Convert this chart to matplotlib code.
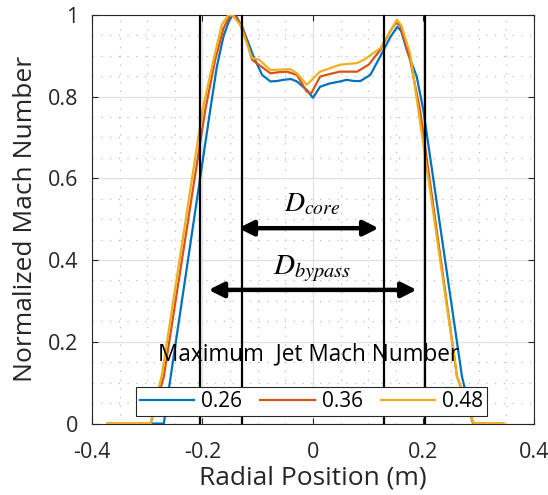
import matplotlib
matplotlib.use("Agg")
import matplotlib.pyplot as plt
from matplotlib.ticker import MultipleLocator

plt.rcParams['font.family'] = ['Open Sans', 'DejaVu Sans']
plt.rcParams['axes.unicode_minus'] = False
plt.rcParams['mathtext.fontset'] = 'stix'

# Data
x_026 = [-0.290, -0.270, -0.258, -0.186, -0.174, -0.162, -0.152, -0.145, -0.138, -0.126,
         -0.1075, -0.092, -0.077, -0.065, -0.053, -0.040, -0.029, -0.011, 0.000, 0.013,
         0.030, 0.049, 0.061, 0.075, 0.086, 0.104, 0.125, 0.140, 0.153, 0.160, 0.170,
         0.188, 0.200, 0.270, 0.290]
y_026 = [0.0, 0.0, 0.111, 0.767, 0.873, 0.947, 0.985, 1.0, 0.995, 0.963,
         0.898, 0.853, 0.837, 0.838, 0.841, 0.843, 0.837, 0.816, 0.797, 0.824,
         0.832, 0.837, 0.841, 0.838, 0.838, 0.853, 0.906, 0.945, 0.971, 0.960, 0.914,
         0.849, 0.767, 0.115, 0.0]

x_036 = [-0.372, -0.294, -0.270, -0.195, -0.177, -0.162, -0.150, -0.140, -0.128, -0.110,
         -0.098, -0.077, -0.060, -0.047, -0.029, -0.011, -0.003, 0.013, 0.030, 0.049,
         0.065, 0.080, 0.101, 0.122, 0.140, 0.150, 0.158, 0.176, 0.194, 0.261, 0.291, 0.345]
y_036 = [0.0, 0.0, 0.115, 0.767, 0.890, 0.967, 1.0, 0.995, 0.971, 0.890,
         0.878, 0.857, 0.860, 0.861, 0.853, 0.812, 0.808, 0.849, 0.855, 0.861,
         0.861, 0.861, 0.878, 0.914, 0.960, 0.980, 0.975, 0.890, 0.767, 0.115, 0.0, 0.0]

x_048 = [-0.372, -0.294, -0.273, -0.200, -0.180, -0.165, -0.153, -0.145, -0.132, -0.110,
         -0.098, -0.077, -0.060, -0.041, -0.029, -0.011, 0.013, 0.030, 0.049, 0.065,
         0.080, 0.092, 0.101, 0.122, 0.140, 0.152, 0.160, 0.176, 0.191, 0.261, 0.291, 0.345]
y_048 = [0.0, 0.0, 0.123, 0.767, 0.890, 0.976, 1.0, 0.998, 0.976, 0.894,
         0.891, 0.865, 0.866, 0.867, 0.857, 0.829, 0.861, 0.869, 0.878, 0.880,
         0.882, 0.890, 0.898, 0.918, 0.960, 0.988, 0.975, 0.906, 0.767, 0.115, 0.0, 0.0]

series_labels = ['0.26', '0.36', '0.48']
series_colors = ['#0072BD', '#D95319', '#EDB120']

vlines_x = [-0.204, -0.128, 0.128, 0.203]
core_span = [-0.135, 0.119]
bypass_span = [-0.189, 0.188]

x_ticks = [-0.4, -0.2, 0, 0.2, 0.4]
x_ticklabels = ['-0.4', '-0.2', '0', '0.2', '0.4']
y_ticks = [0, 0.2, 0.4, 0.6, 0.8, 1.0]
y_ticklabels = ['0', '0.2', '0.4', '0.6', '0.8', '1']

fig = plt.figure(figsize=(5.48, 4.95), dpi=100)
ax = fig.add_axes([0.168, 0.1444, 0.806, 0.8256])

axc = '#262626'
ax.set_xlim(-0.4, 0.4)
ax.set_ylim(0, 1)

ax.xaxis.set_minor_locator(MultipleLocator(0.05))
ax.yaxis.set_minor_locator(MultipleLocator(0.05))
ax.grid(True, which='major', color='#e0e0e0', lw=0.9, zorder=0)
ax.grid(True, which='minor', color='#bdbdbd', lw=0.9, ls=(0, (1, 6)), zorder=0)
ax.set_axisbelow(True)

lines = []
for xs, ys, lab, col in zip([x_026, x_036, x_048], [y_026, y_036, y_048], series_labels, series_colors):
    ln, = ax.plot(xs, ys, color=col, lw=1.6, label=lab, zorder=3, clip_on=True)
    lines.append(ln)

for xv in vlines_x:
    ax.axvline(xv, color='black', lw=1.6, zorder=4)

arrow_kw = dict(arrowstyle='<|-|>,head_length=0.9,head_width=0.45', lw=3.2, color='black',
                shrinkA=0, shrinkB=0)
ax.annotate('', xy=(core_span[1], 0.478), xytext=(core_span[0], 0.478), arrowprops=arrow_kw, zorder=5)
ax.annotate('', xy=(bypass_span[1], 0.327), xytext=(bypass_span[0], 0.327), arrowprops=arrow_kw, zorder=5)
ax.text(-0.0015, 0.537, r'$D_{core}$', ha='center', va='center', fontsize=20, zorder=6)
ax.text(-0.0015, 0.378, r'$D_{bypass}$', ha='center', va='center', fontsize=21, zorder=6)

ax.text(-0.0076, 0.168, 'Maximum  Jet Mach Number', ha='center', va='center',
        fontsize=16.3, color='black', zorder=6)

leg = ax.legend(handles=lines, loc='lower left', ncol=3,
                bbox_to_anchor=(0.0995, 0.018, 0.795, 0.09), mode='expand',
                borderaxespad=0, fontsize=15, frameon=True, fancybox=False,
                handlelength=2.6, handletextpad=0.33, columnspacing=0.6,
                borderpad=0.2)
leg.get_frame().set_edgecolor('#262626')
leg.get_frame().set_linewidth(0.8)
leg.get_frame().set_alpha(1)
leg.set_zorder(7)

ax.set_xticks(x_ticks)
ax.set_xticklabels(x_ticklabels)
ax.set_yticks(y_ticks)
ax.set_yticklabels(y_ticklabels)
ax.tick_params(which='both', direction='in', top=True, right=True, colors=axc,
               labelsize=15.5, labelcolor=axc)
ax.tick_params(which='minor', length=0)
ax.tick_params(which='major', length=4, width=0.8)
ax.tick_params(axis='y', pad=10)
ax.tick_params(axis='x', pad=13)
for sp in ax.spines.values():
    sp.set_color(axc)
    sp.set_linewidth(0.8)

ax.set_xlabel('Radial Position (m)', fontsize=19, color=axc, labelpad=2)
ax.set_ylabel('Normalized Mach Number', fontsize=19, color=axc, labelpad=7)

fig.savefig('out.png', dpi=100)
